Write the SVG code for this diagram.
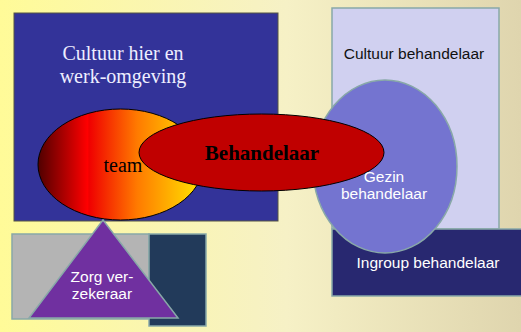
<svg xmlns="http://www.w3.org/2000/svg" width="521" height="332" viewBox="0 0 521 332">
  <defs>
    <linearGradient id="bg" x1="0" y1="0" x2="1" y2="0">
      <stop offset="0" stop-color="#fffb98"/>
      <stop offset="0.55" stop-color="#f6f1c6"/>
      <stop offset="1" stop-color="#dfd5ae"/>
    </linearGradient>
    <linearGradient id="fire" x1="0" y1="0" x2="1" y2="0">
      <stop offset="0" stop-color="#500000"/>
      <stop offset="0.3" stop-color="#ff0000"/>
      <stop offset="0.31" stop-color="#f00000"/>
      <stop offset="0.6" stop-color="#ff7a00"/>
      <stop offset="1" stop-color="#ffe800"/>
    </linearGradient>
    <style>
      .edge { stroke: #88a8a8; stroke-width: 1.5; }
      .serif { font-family: "Liberation Serif", "Times New Roman", serif; }
      .sans { font-family: "Liberation Sans", Arial, sans-serif; font-size: 15.5px; }
      .mid { text-anchor: middle; }
      .w { fill: #ffffff; }
    </style>
  </defs>
  <rect x="0" y="0" width="521" height="332" fill="url(#bg)"/>

  <g id="cultuur-hier">
    <rect x="14" y="13" width="264" height="208" fill="#333399" stroke="#555544" stroke-width="1"/>
    <text class="serif mid" x="123" y="60" font-size="20" fill="#eeeeff">Cultuur hier en</text>
    <text class="serif mid" x="123" y="83" font-size="20" fill="#eeeeff">werk-omgeving</text>
  </g>

  <g id="cultuur-behandelaar">
    <rect class="edge" x="332" y="8" width="167" height="221" fill="#d0d0f0"/>
    <text class="sans mid" x="414" y="59" fill="#111111">Cultuur behandelaar</text>
  </g>

  <g id="ingroup">
    <rect class="edge" x="332" y="229" width="195" height="67" fill="#282870"/>
    <text class="sans mid w" x="428" y="268">Ingroup behandelaar</text>
  </g>

  <g id="gezin">
    <ellipse class="edge" cx="385" cy="166.5" rx="72" ry="86.5" fill="#7474d0"/>
  </g>

  <g id="team">
    <ellipse cx="120.5" cy="164.5" rx="82.5" ry="55.5" fill="url(#fire)" stroke="#000000" stroke-width="1"/>
    <text class="serif mid" x="123" y="172" font-size="20" fill="#000000">team</text>
  </g>

  <g id="behandelaar">
    <ellipse cx="261.5" cy="152.5" rx="122.5" ry="38.5" fill="#c00000" stroke="#000000" stroke-width="1"/>
    <text class="serif mid" x="262" y="160" font-size="21" font-weight="bold" fill="#000000">Behandelaar</text>
  </g>

  <g id="gezin-label">
    <text class="sans mid w" x="384" y="182">Gezin</text>
    <text class="sans mid w" x="384" y="199">behandelaar</text>
  </g>

  <g id="zorg">
    <rect class="edge" x="12" y="234" width="137" height="85" fill="#b4b4b4"/>
    <rect class="edge" x="149" y="234" width="57" height="92" fill="#223a5a"/>
    <polygon class="edge" points="103,220 178,318 29,318" fill="#7030a0"/>
    <text class="sans mid w" x="102" y="282">Zorg ver-</text>
    <text class="sans mid w" x="102" y="299">zekeraar</text>
  </g>

  <g id="connectors"/>
</svg>
